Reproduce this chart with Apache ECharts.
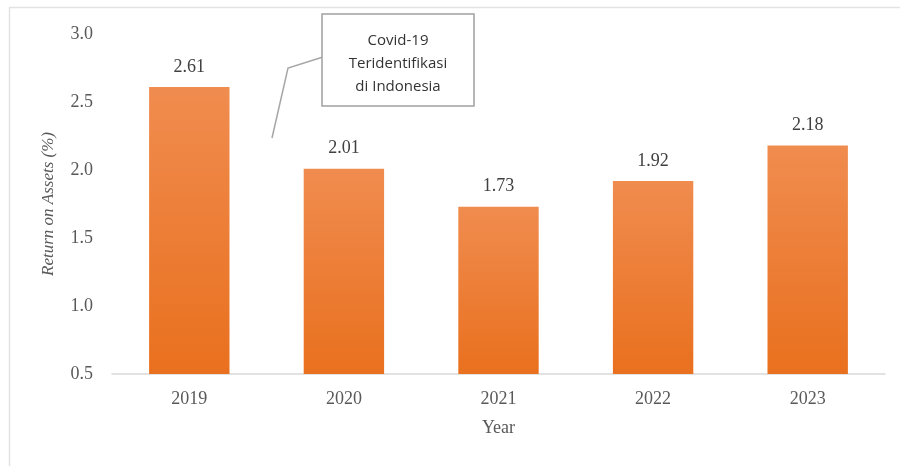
<!DOCTYPE html>
<html>
<head>
<meta charset="utf-8">
<script src="https://cdn.jsdelivr.net/npm/echarts@6/dist/echarts.min.js"></script>
<style>
  html, body { margin: 0; padding: 0; background: #fff; }
  #myChart { width: 900px; height: 466px; }
</style>
</head>
<body>
<div id="myChart"></div>
<script>
// data
const years = ['2019', '2020', '2021', '2022', '2023']
const roa = [2.61, 2.01, 1.73, 1.92, 2.18]
const yTicks = { min: 0.5, max: 3.0, step: 0.5 }
const note = ['Covid-19', 'Teridentifikasi', 'di Indonesia']

const serif = '"Liberation Serif", "DejaVu Serif", serif'
const grey = '#595959'

const option = {
  backgroundColor: '#fff',
  animation: false,
  grid: { left: 112, right: 15, top: 34, bottom: 92 },
  xAxis: {
    type: 'category',
    data: years,
    name: 'Year',
    nameLocation: 'middle',
    nameGap: 45,
    nameTextStyle: { fontFamily: serif, fontSize: 18, color: grey },
    axisLine: { lineStyle: { color: '#d9d9d9', width: 1.5 } },
    axisTick: { show: false },
    axisLabel: { fontFamily: serif, fontSize: 18, color: grey, margin: 16 }
  },
  yAxis: {
    type: 'value',
    min: yTicks.min,
    max: yTicks.max,
    interval: yTicks.step,
    name: 'Return on Assets (%)',
    nameLocation: 'middle',
    nameGap: 55,
    nameTextStyle: { fontFamily: serif, fontSize: 17, color: grey, fontStyle: 'italic' },
    axisLine: { show: false },
    axisTick: { show: false },
    splitLine: { show: false },
    axisLabel: {
      fontFamily: serif, fontSize: 18, color: grey, margin: 19,
      formatter: v => v.toFixed(1)
    }
  },
  series: [{
    type: 'bar',
    data: roa,
    barWidth: '52%',
    itemStyle: {
      color: new echarts.graphic.LinearGradient(0, 0, 0, 1, [
        { offset: 0, color: '#F08C4F' },
        { offset: 1, color: '#E9701E' }
      ])
    },
    label: {
      show: true,
      position: 'top',
      distance: 11,
      fontFamily: serif,
      fontSize: 18,
      color: '#404040',
      formatter: p => p.value.toFixed(2)
    }
  }],
  graphic: [
    // faint frame of the original figure
    { type: 'line', shape: { x1: 9, y1: 7.5, x2: 900, y2: 7.5 }, style: { stroke: '#e3e3e3', lineWidth: 1.5 } },
    { type: 'line', shape: { x1: 9.5, y1: 7, x2: 9.5, y2: 466 }, style: { stroke: '#e3e3e3', lineWidth: 1.5 } },
    // callout
    {
      type: 'polyline',
      shape: { points: [[323, 57], [288, 68], [272, 138]] },
      style: { stroke: '#a6a6a6', lineWidth: 1.5, fill: null }
    },
    {
      type: 'rect',
      shape: { x: 322, y: 14, width: 152, height: 92 },
      style: { fill: '#fff', stroke: '#a0a0a0', lineWidth: 1.5 }
    },
    {
      type: 'text',
      x: 398, y: 64,
      style: {
        text: note.join('\n'),
        align: 'center',
        verticalAlign: 'middle',
        fontFamily: '"Open Sans", "Noto Sans", sans-serif',
        fontSize: 15,
        lineHeight: 23,
        fill: '#333'
      }
    }
  ]
}

const myChart = echarts.init(document.getElementById('myChart'))
myChart.setOption(option)
</script>
</body>
</html>
